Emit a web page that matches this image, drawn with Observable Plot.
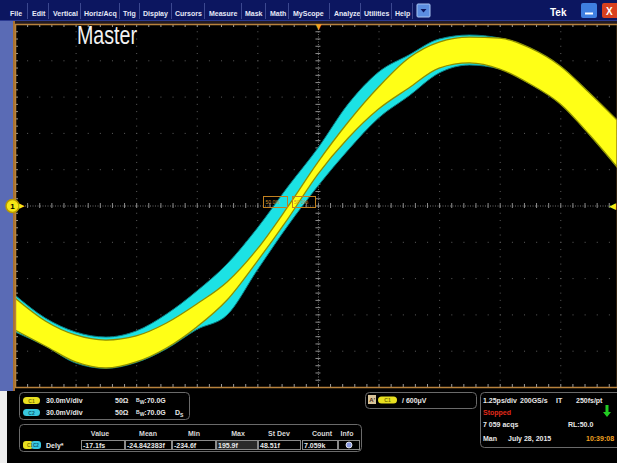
<!DOCTYPE html>
<html><head><meta charset="utf-8">
<script src="https://cdn.jsdelivr.net/npm/d3@7"></script>
<script src="https://cdn.jsdelivr.net/npm/@observablehq/plot@0.6"></script>
<style>
html,body{margin:0;padding:0;background:#000;width:617px;height:463px;overflow:hidden;}
svg text{font-family:"Liberation Sans",Arial,sans-serif;}
#bg,#fg{position:absolute;left:0;top:0;}
#scope{position:absolute;left:0;top:21px;width:617px;height:370px;}
</style></head>
<body>
<svg id="bg" width="617" height="463">
  <rect x="0" y="21" width="13" height="370" fill="#5a6bb5"/>
  <rect x="13" y="21" width="2" height="370" fill="#a87030"/>
  <rect x="15" y="21" width="602" height="3" fill="#231a22"/>
  <rect x="0" y="391" width="7" height="72" fill="#eeeeee"/>
</svg>
<div id="scope"></div>
<svg id="fg" width="617" height="463" font-weight="bold">
  <!-- menu bar -->
  <rect x="0" y="0" width="617" height="21" fill="#0c1660"/>
  <rect x="0" y="20" width="617" height="1" fill="#2b3a92"/>
  <g fill="#e6e9f8" font-size="7">
    <text x="10" y="15.5">File</text><text x="32" y="15.5">Edit</text><text x="53" y="15.5">Vertical</text>
    <text x="84" y="15.5">Horiz/Acq</text><text x="123" y="15.5">Trig</text><text x="143" y="15.5">Display</text>
    <text x="175" y="15.5">Cursors</text><text x="209" y="15.5">Measure</text><text x="245" y="15.5">Mask</text>
    <text x="270" y="15.5">Math</text><text x="293" y="15.5">MyScope</text><text x="334" y="15.5">Analyze</text>
    <text x="364" y="15.5">Utilities</text><text x="395" y="15.5">Help</text>
  </g>
  <g stroke="#3c4890" stroke-width="1">
    <line x1="27.5" x2="27.5" y1="3" y2="19"/><line x1="48.5" x2="48.5" y1="3" y2="19"/><line x1="80.5" x2="80.5" y1="3" y2="19"/>
    <line x1="119.5" x2="119.5" y1="3" y2="19"/><line x1="139.5" x2="139.5" y1="3" y2="19"/><line x1="171.5" x2="171.5" y1="3" y2="19"/>
    <line x1="204.5" x2="204.5" y1="3" y2="19"/><line x1="241.5" x2="241.5" y1="3" y2="19"/><line x1="265.5" x2="265.5" y1="3" y2="19"/>
    <line x1="288.5" x2="288.5" y1="3" y2="19"/><line x1="329.5" x2="329.5" y1="3" y2="19"/><line x1="360.5" x2="360.5" y1="3" y2="19"/>
    <line x1="391.5" x2="391.5" y1="3" y2="19"/><line x1="412.5" x2="412.5" y1="3" y2="19"/>
  </g>
  <rect x="417" y="4" width="13" height="13" rx="1" fill="#5b8de0" stroke="#a8c4f2"/>
  <path d="M420.5,9 h6 l-3,3.5 z" fill="#0c1660"/>
  <text x="550" y="16" font-size="10" fill="#ffffff">Tek</text>
  <rect x="581" y="3" width="16" height="15" rx="2" fill="#3f7fe0"/>
  <line x1="585" x2="593" y1="13.5" y2="13.5" stroke="#ffffff" stroke-width="2"/>
  <rect x="602" y="3" width="17" height="15" rx="2" fill="#d9401f"/>
  <text x="606" y="15" font-size="10" fill="#ffffff">X</text>

  <!-- overlay inside graticule -->
  <text x="77" y="44" font-size="25" font-weight="normal" fill="#f2f2f2" textLength="60" lengthAdjust="spacingAndGlyphs">Master</text>
  <g fill="none" stroke="#c08020" stroke-width="1">
    <rect x="263.5" y="196.5" width="24" height="11"/>
    <rect x="292.5" y="196.5" width="23" height="11"/>
  </g>
  <g fill="#d09030" font-size="5" font-weight="normal">
    <text x="265.5" y="204">50.0%</text><text x="294" y="204">50.0%</text>
  </g>

  <!-- bottom panel -->
  <g fill="none" stroke="#6a6a6a" stroke-width="1">
    <rect x="19.5" y="392.5" width="170" height="27" rx="4"/>
    <rect x="19.5" y="424.5" width="342" height="27" rx="4"/>
    <rect x="365.5" y="392.5" width="111" height="16" rx="4"/>
    <rect x="480.5" y="392.5" width="150" height="55" rx="4"/>
  </g>
  <g font-size="7" fill="#e8e8e8">
    <rect x="23" y="397" width="17" height="7" rx="3.5" fill="#e8e020"/>
    <text x="31.5" y="402.7" font-size="5" fill="#7a7000" text-anchor="middle">C1</text>
    <text x="46" y="403">30.0mV/div</text>
    <text x="115" y="403">50Ω</text>
    <text x="136" y="403"><tspan font-size="5" dy="-1">B</tspan><tspan font-size="5" dy="2">W</tspan><tspan dy="-1">:70.0G</tspan></text>
    <rect x="23" y="409" width="17" height="7" rx="3.5" fill="#38c8e0"/>
    <text x="31.5" y="414.7" font-size="5" fill="#0a5a70" text-anchor="middle">C2</text>
    <text x="46" y="415">30.0mV/div</text>
    <text x="115" y="415">50Ω</text>
    <text x="136" y="415"><tspan font-size="5" dy="-1">B</tspan><tspan font-size="5" dy="2">W</tspan><tspan dy="-1">:70.0G</tspan></text>
    <text x="175" y="415">D<tspan font-size="5" dy="1.5">S</tspan></text>

    <g fill="#d8d8d8" text-anchor="middle">
      <text x="100" y="436">Value</text><text x="148" y="436">Mean</text><text x="194" y="436">Min</text>
      <text x="238" y="436">Max</text><text x="279" y="436">St Dev</text><text x="322" y="436">Count</text><text x="347" y="436">Info</text>
    </g>
    <g stroke="#8a8a8a" stroke-width="1">
      <rect x="81.5" y="440.5" width="43" height="9" fill="#000"/>
      <rect x="125.5" y="440.5" width="46" height="9" fill="#000"/>
      <rect x="172.5" y="440.5" width="43" height="9" fill="#000"/>
      <rect x="216.5" y="440.5" width="41" height="9" fill="#2a2a2a"/>
      <rect x="258.5" y="440.5" width="42" height="9" fill="#000"/>
      <rect x="302.5" y="440.5" width="35" height="9" fill="#000"/>
      <rect x="338.5" y="440.5" width="21" height="9" fill="#000"/>
    </g>
    <text x="83" y="447.6">-17.1fs</text><text x="127" y="447.6">-24.842383f</text><text x="174" y="447.6">-234.6f</text>
    <text x="218" y="447.6">195.9f</text><text x="260" y="447.6">48.51f</text><text x="304" y="447.6">7.059k</text>
    <circle cx="349" cy="445" r="3" fill="#8a9ae0" stroke="#ffffff" stroke-width="0.8"/>
    <rect x="23" y="441" width="10" height="8" rx="3" fill="#e8e020"/>
    <rect x="31" y="441" width="10" height="8" rx="3" fill="#38c8e0"/>
    <text x="27" y="446.5" font-size="4.5" fill="#7a7000">C1</text><text x="33" y="446.5" font-size="4.5" fill="#0a5a70">C2</text>
    <text x="46" y="447.6">Dely*</text>

    <rect x="368" y="395" width="8" height="9" fill="#d8c49a"/>
    <text x="369.3" y="402.3" font-size="6" fill="#402010">A'</text>
    <rect x="378" y="396.5" width="19" height="7" rx="3.5" fill="#e8e020"/>
    <text x="387.5" y="402.2" font-size="5" fill="#7a7000" text-anchor="middle">C1</text>
    <text x="402" y="403">/ 600μV</text>

    <text x="483" y="403">1.25ps/div</text><text x="520" y="403">200GS/s</text><text x="556" y="403">IT</text><text x="576" y="403">250fs/pt</text>
    <text x="483" y="415" fill="#e02a1a">Stopped</text>
    <path d="M605.5,405 v7 h-2.5 l4,5 l4,-5 h-2.5 v-7 z" fill="#22cc22"/>
    <text x="483" y="427">7 059 acqs</text><text x="568" y="427">RL:50.0</text>
    <text x="483" y="441">Man</text><text x="508" y="441">July 28, 2015</text>
    <text x="586" y="441" fill="#f0a020">10:39:08</text>
  </g>
</svg>
<script>
// Time axis in ps (1.25 ps/div), voltage in mV (30 mV/div)
const timePs = [-6.25, -5.625, -5, -4.375, -3.75, -3.125, -2.5, -1.875, -1.25, -0.625, 0, 0.625, 1.25, 1.875, 2.5, 3.125, 3.75, 4.375, 5, 5.625, 6.17];
// C1 (yellow) persistence band: upper and lower envelope, mV
const c1Hi = [-76.4, -95.4, -107.0, -111.2, -107.8, -97.1, -81.4, -63.2, -35.9, -1.2, 35.9, 69.0, 97.9, 121.9, 135.1, 139.2, 138.4, 130.2, 115.3, 92.1, 70.7];
const c1Lo = [-102.9, -116.1, -129.3, -134.3, -129.3, -117.8, -100.4, -78.1, -45.9, -11.2, 26.0, 55.8, 79.7, 97.1, 113.6, 117.8, 112.8, 100.4, 83.9, 57.4, 31.8];
// C2 (cyan) persistence band: upper and lower envelope, mV
const c2Hi = [-74.0, -93.0, -104.5, -108.7, -103.7, -89.7, -70.7, -48.3, -18.6, 15.3, 47.5, 84.0, 110.3, 124.4, 137.6, 140.9, 138.4, 130.2, 115.3, 92.1, 70.7];
const c2Lo = [-104.5, -116.1, -130.2, -134.6, -129.8, -118.5, -102.5, -90.5, -53.3, -16.9, 16.1, 45.9, 72.3, 90.5, 109.5, 116.1, 112.8, 100.4, 83.9, 57.4, 31.8];

const rows = timePs.map((t, i) => ({t, c1Hi: c1Hi[i], c1Lo: c1Lo[i], c2Hi: c2Hi[i], c2Lo: c2Lo[i]}));

const psPerDiv = 1.25, mVPerDiv = 30;
const xMin = -6.25, xMax = 6.17, yMin = -150, yMax = 150;
const majorX = d3.range(-4, 5).filter(d => d !== 0).map(d => d * psPerDiv);
const majorY = d3.range(-4, 5).filter(d => d !== 0).map(d => d * mVPerDiv);
const minorX = d3.range(-24, 25).map(d => d * psPerDiv / 5);
const minorY = d3.range(-24, 25).map(d => d * mVPerDiv / 5);
const pxX = psPerDiv / 60.6, pxY = mVPerDiv / 36.3; // one pixel in data units

const chart = Plot.plot({
  width: 617, height: 370,
  marginLeft: 15, marginRight: 0, marginTop: 3, marginBottom: 4,
  style: {background: "transparent", overflow: "visible"},
  x: {domain: [xMin, xMax], axis: null},
  y: {domain: [yMin, yMax], axis: null},
  marks: [
    Plot.ruleX(majorX, {stroke: "#5e5e5e", strokeDasharray: "1,6.26"}),
    Plot.ruleY(majorY, {stroke: "#5e5e5e", strokeDasharray: "1,11.12"}),
    Plot.ruleX([0], {stroke: "#707070", strokeDasharray: "1,1.5"}),
    Plot.ruleY([0], {stroke: "#707070", strokeDasharray: "1,1.5"}),
    Plot.ruleX(minorX, {y1: -2.5 * pxY, y2: 2.5 * pxY, stroke: "#8c8c8c"}),
    Plot.ruleY(minorY, {x1: -2.5 * pxX, x2: 2.5 * pxX, stroke: "#8c8c8c"}),
    Plot.ruleX(minorX, {y1: yMax, y2: yMax - 3 * pxY, stroke: "#9a9a9a"}),
    Plot.ruleX(minorX, {y1: yMin, y2: yMin + 3 * pxY, stroke: "#9a9a9a"}),
    Plot.ruleY(minorY, {x1: xMin, x2: xMin + 3 * pxX, stroke: "#9a9a9a"}),
    Plot.areaY(rows, {x: "t", y1: "c2Lo", y2: "c2Hi", fill: "#1ae2e4", stroke: "#0b7a82", strokeWidth: 1, curve: "monotone-x", clip: true}),
    Plot.areaY(rows, {x: "t", y1: "c1Lo", y2: "c1Hi", fill: "#ffff14", stroke: "#8f8f00", strokeWidth: 1.3, curve: "monotone-x", clip: true}),
    Plot.frame({stroke: "#b8823c", strokeWidth: 1.5}),
    Plot.text([0], {x: d => d, y: () => yMax, dy: 2, text: () => "▼", fill: "#f0a020", fontSize: 10}),
    Plot.dot([0], {x: () => xMin, y: d => d, dx: -3, r: 6.5, fill: "#f6e816", stroke: "#b89a00"}),
    Plot.text([0], {x: () => xMin, y: d => d, dx: -3, text: () => "1", fill: "#000", fontSize: 8, fontWeight: "bold"}),
    Plot.text([0], {x: () => xMin, y: d => d, dx: 6, text: () => "▶", fill: "#f6e816", fontSize: 7}),
    Plot.text([0], {x: () => xMax, y: d => d, dx: -5, text: () => "◀", fill: "#f6e816", fontSize: 9})
  ]
});
// soften the persistence bands slightly, like the scope display
const svg = d3.select(chart);
const defs = svg.insert("defs", ":first-child");
defs.append("filter").attr("id", "soft").append("feGaussianBlur").attr("stdDeviation", 0.5);
svg.selectAll('g[aria-label="area"]').attr("filter", "url(#soft)");
document.getElementById("scope").appendChild(chart);
</script>
</body></html>
